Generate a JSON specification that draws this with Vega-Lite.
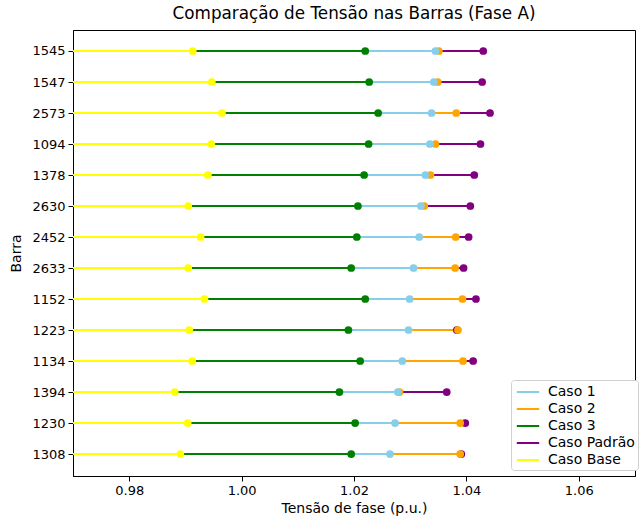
{
  "$schema": "https://vega.github.io/schema/vega-lite/v6.json",
  "width": 562,
  "height": 446,
  "autosize": {"type": "none"},
  "padding": {"left": 73, "top": 30, "right": 4, "bottom": 40},
  "title": {"text": "Comparação de Tensão nas Barras (Fase A)", "font": "DejaVu Sans", "fontSize": 16.8, "fontWeight": "normal", "color": "black", "offset": 7},
  "config": {
    "view": {"stroke": "black", "strokeWidth": 1},
    "axis": {"labelFont": "DejaVu Sans", "titleFont": "DejaVu Sans", "labelFontSize": 13, "titleFontSize": 14, "titleFontWeight": "normal", "labelColor": "black", "titleColor": "black", "domainColor": "black", "tickColor": "black", "grid": false, "tickSize": 5, "labelPadding": 3}
  },
  "data": {"values": [
    {"Barra": "1545", "Caso 1": 1.0345, "Caso 2": 1.0351, "Caso 3": 1.0220, "Caso Padrão": 1.0430, "Caso Base": 0.9913},
    {"Barra": "1547", "Caso 1": 1.0342, "Caso 2": 1.0349, "Caso 3": 1.0227, "Caso Padrão": 1.0428, "Caso Base": 0.9947},
    {"Barra": "2573", "Caso 1": 1.0338, "Caso 2": 1.0382, "Caso 3": 1.0243, "Caso Padrão": 1.0442, "Caso Base": 0.9965},
    {"Barra": "1094", "Caso 1": 1.0335, "Caso 2": 1.0345, "Caso 3": 1.0226, "Caso Padrão": 1.0425, "Caso Base": 0.9946},
    {"Barra": "1378", "Caso 1": 1.0327, "Caso 2": 1.0336, "Caso 3": 1.0218, "Caso Padrão": 1.0414, "Caso Base": 0.9940},
    {"Barra": "2630", "Caso 1": 1.0319, "Caso 2": 1.0325, "Caso 3": 1.0207, "Caso Padrão": 1.0407, "Caso Base": 0.9905},
    {"Barra": "2452", "Caso 1": 1.0316, "Caso 2": 1.0381, "Caso 3": 1.0205, "Caso Padrão": 1.0404, "Caso Base": 0.9927},
    {"Barra": "2633", "Caso 1": 1.0306, "Caso 2": 1.0380, "Caso 3": 1.0195, "Caso Padrão": 1.0395, "Caso Base": 0.9905},
    {"Barra": "1152", "Caso 1": 1.0299, "Caso 2": 1.0393, "Caso 3": 1.0220, "Caso Padrão": 1.0417, "Caso Base": 0.9934},
    {"Barra": "1223", "Caso 1": 1.0297, "Caso 2": 1.0385, "Caso 3": 1.0190, "Caso Padrão": 1.0383, "Caso Base": 0.9907},
    {"Barra": "1134", "Caso 1": 1.0286, "Caso 2": 1.0394, "Caso 3": 1.0211, "Caso Padrão": 1.0412, "Caso Base": 0.9912},
    {"Barra": "1394", "Caso 1": 1.0278, "Caso 2": 1.0281, "Caso 3": 1.0174, "Caso Padrão": 1.0365, "Caso Base": 0.9881},
    {"Barra": "1230", "Caso 1": 1.0273, "Caso 2": 1.0389, "Caso 3": 1.0202, "Caso Padrão": 1.0398, "Caso Base": 0.9904},
    {"Barra": "1308", "Caso 1": 1.0264, "Caso 2": 1.0389, "Caso 3": 1.0195, "Caso Padrão": 1.0391, "Caso Base": 0.9891}
  ]},
  "transform": [{"fold": ["Caso Padrão", "Caso 2", "Caso 1", "Caso 3", "Caso Base"], "as": ["Caso", "Tensao"]}],
  "encoding": {
    "y": {"field": "Barra", "type": "nominal", "sort": ["1545","1547","2573","1094","1378","2630","2452","2633","1152","1223","1134","1394","1230","1308"], "scale": {"type": "point", "padding": 0.6935, "align": 0.4884}, "axis": {"title": "Barra", "titlePadding": 8}},
    "color": {"field": "Caso", "type": "nominal", "scale": {"domain": ["Caso 1", "Caso 2", "Caso 3", "Caso Padrão", "Caso Base"], "range": ["#87CEEB", "#FFA500", "#008000", "#800080", "#FFFF00"]}, "legend": {"title": null, "orient": "none", "legendX": 438, "legendY": 350, "symbolType": "M-1.4,0L1.4,0", "symbolSize": 256, "symbolStrokeWidth": 2, "symbolOffset": 5, "labelOffset": 11, "labelFont": "DejaVu Sans", "labelFontSize": 14, "labelColor": "black", "strokeColor": "#d0d0d0", "fillColor": "white", "cornerRadius": 3, "padding": 3, "rowPadding": 1}}
  },
  "layer": [
    {
      "mark": {"type": "rule", "strokeWidth": 2},
      "encoding": {
        "x": {"field": "Tensao", "type": "quantitative", "scale": {"domain": [0.97, 1.07], "zero": false, "nice": false}, "axis": {"title": "Tensão de fase (p.u.)", "values": [0.98, 1.0, 1.02, 1.04, 1.06], "format": ".2f", "titlePadding": 4}},
        "x2": {"datum": 0.97}
      }
    },
    {
      "mark": {"type": "circle", "size": 60, "opacity": 1},
      "encoding": {
        "x": {"field": "Tensao", "type": "quantitative"}
      }
    }
  ]
}
